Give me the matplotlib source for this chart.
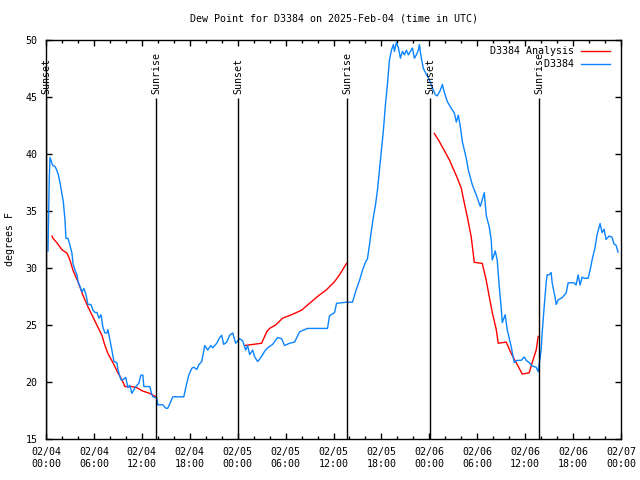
import numpy as np
import pandas as pd
import matplotlib
matplotlib.use('Agg')
import matplotlib.pyplot as plt
import matplotlib.dates as mdates

plt.rcParams['font.family'] = 'DejaVu Sans Mono'
plt.rcParams['font.size'] = 7.2

start = pd.Timestamp('2025-02-04 00:00')

# observed dew point (hours since 02/04 00:00 UTC, deg F)
obs_hours = [0.25, 0.3, 0.4, 0.5, 0.84, 1.13, 1.34, 1.54, 1.75, 1.97, 2.17, 2.38, 2.5, 2.75,
             3.0, 3.25, 3.38, 3.63, 3.88, 4.0, 4.25, 4.5, 4.75, 5.0, 5.25, 5.63, 5.88, 6.13,
             6.38, 6.63, 6.88, 7.13, 7.38, 7.63, 7.75, 8.0, 8.25, 8.5, 8.88, 9.0, 9.38, 9.63,
             10.0, 10.25, 10.5, 10.75, 11.13, 11.63, 11.88, 12.13, 12.25, 13.0, 13.25, 13.38,
             13.88, 14.0, 14.63, 15.0, 15.25, 15.63, 15.88, 17.25, 17.63, 17.88, 18.25, 18.5,
             18.88, 19.13, 19.5, 19.88, 20.25, 20.63, 20.88, 21.38, 21.75, 22.0, 22.25, 22.63,
             23.0, 23.38, 23.75, 24.25, 24.63, 25.0, 25.25, 25.5, 25.88, 26.13, 26.5, 26.75,
             27.13, 27.38, 27.75, 28.38, 29.0, 29.5, 29.88, 30.5, 31.13, 31.75, 32.38, 32.75,
             35.25, 35.5, 36.13, 36.38, 37.63, 38.38, 38.75, 39.25, 39.63, 40.0, 40.25, 40.5,
             40.75, 41.0, 41.25, 41.5, 41.75, 42.0, 42.25, 42.5, 42.75, 43.0, 43.25, 43.5,
             43.63, 43.88, 44.13, 44.38, 44.63, 44.88, 45.13, 45.38, 45.63, 45.88, 46.13,
             46.38, 46.63, 46.75, 47.0, 47.25, 47.63, 48.0, 48.38, 48.75, 49.0, 49.38, 49.63,
             49.88, 50.25, 50.75, 51.13, 51.38, 51.63, 51.88, 52.13, 52.63, 52.88, 53.38,
             53.88, 54.38, 54.88, 55.13, 55.5, 55.75, 55.88, 56.25, 56.5, 56.75, 57.0, 57.13,
             57.5, 57.75, 58.25, 58.63, 59.0, 59.5, 59.88, 60.13, 60.5, 60.88, 61.38, 61.63,
             61.75, 62.0, 62.13, 62.38, 62.63, 62.75, 63.0, 63.25, 63.38, 63.75, 63.88, 64.13,
             64.63, 65.13, 65.38, 66.13, 66.38, 66.63, 66.88, 67.13, 67.38, 67.88, 68.13,
             68.38, 68.75, 69.0, 69.38, 69.63, 69.88, 70.13, 70.5, 70.88, 71.13, 71.38, 71.63]
obs_dewp = [31.5, 33.7, 37.6, 39.7, 39.0, 38.9, 38.6, 38.2, 37.5, 36.6, 35.8, 34.2, 32.6, 32.6,
            32.0, 31.3, 30.4, 29.8, 29.4, 28.8, 28.4, 27.9, 28.2, 27.7, 26.8, 26.8, 26.3, 26.1,
            26.1, 25.6, 25.9, 24.8, 24.3, 24.3, 24.6, 23.7, 22.8, 21.8, 21.7, 21.1, 20.2, 20.2,
            20.4, 19.5, 19.7, 19.0, 19.5, 19.9, 20.6, 20.6, 19.6, 19.6, 18.9, 18.7,
            18.6, 18.0, 18.0, 17.7, 17.7, 18.3, 18.7, 18.7, 19.9, 20.6, 21.2, 21.3,
            21.1, 21.5, 21.8, 23.2, 22.8, 23.2, 23.0, 23.4, 23.9, 24.1, 23.3, 23.5,
            24.1, 24.3, 23.4, 23.8, 23.6, 22.8, 23.2, 22.4, 22.8, 22.2, 21.8, 22.0,
            22.4, 22.7, 23.0, 23.3, 23.9, 23.8, 23.2, 23.4, 23.5, 24.4, 24.6, 24.7,
            24.7, 25.8, 26.1, 26.9, 27.0, 27.0, 27.9, 28.9, 29.8, 30.5, 30.8, 32.0,
            33.3, 34.5, 35.5, 36.8, 38.6, 40.4, 42.1, 44.3, 46.1, 48.2, 49.1, 49.6,
            49.0, 49.8, 49.3, 48.4, 49.0, 48.7, 49.1, 48.7, 49.0, 49.3, 48.4,
            48.7, 49.1, 49.6, 48.4, 47.5, 47.0, 46.5, 45.8, 45.2, 45.1, 45.6, 46.1,
            45.4, 44.6, 44.0, 43.6, 42.8, 43.4, 42.4, 41.1, 39.6, 38.6, 37.3,
            36.4, 35.4, 36.6, 34.6, 33.6, 32.5, 30.7, 31.5, 30.7, 28.4, 26.5, 25.2,
            25.9, 24.6, 23.1, 21.7, 21.9, 21.9, 22.2, 21.9, 21.7, 21.4, 21.3, 20.9,
            21.5, 22.8, 24.3, 26.6, 28.7, 29.4, 29.4, 29.6, 28.7, 27.4, 26.8, 27.2,
            27.4, 27.8, 28.7, 28.7, 28.5, 29.4, 28.5, 29.2, 29.1, 29.1, 29.8,
            30.7, 31.8, 32.9, 33.9, 33.1, 33.4, 32.5, 32.8, 32.7, 32.1, 32.0, 31.4]

# analysis, three night-time segments (NaN = gap)
ana_hours = [0.75, 0.88, 1.38, 2.0, 2.63, 3.0, 3.38, 4.0, 4.63, 5.25, 5.88, 6.5, 7.0, 7.38,
             7.75, 8.38, 9.0, 9.5, 9.88, 10.75, 11.38, 12.13, 13.0, 13.75, 19.0,
             24.88, 27.0, 27.38, 27.63, 28.0, 28.75, 29.63, 30.75, 32.0, 33.0, 34.0, 35.13,
             36.13, 36.75, 37.63, 43.0,
             48.63, 49.25, 50.5, 51.5, 52.0, 52.38, 52.75, 53.25, 53.63, 54.63, 55.13, 55.5,
             55.88, 56.38, 56.63, 57.63, 58.25, 58.88, 59.63, 60.5, 60.88, 61.38, 61.63]
ana_dewp = [32.8, 32.6, 32.2, 31.6, 31.3, 30.7, 29.8, 28.8, 27.6, 26.6, 25.7, 24.8, 24.1, 23.2,
            22.5, 21.7, 20.8, 20.2, 19.6, 19.6, 19.5, 19.2, 19.0, 18.7, np.nan,
            23.2, 23.4, 24.0, 24.4, 24.7, 25.0, 25.6, 25.9, 26.3, 26.9, 27.5, 28.1,
            28.8, 29.4, 30.4, np.nan,
            41.8, 41.1, 39.5, 37.9, 37.0, 35.7, 34.5, 32.7, 30.5, 30.4, 28.9, 27.5,
            26.1, 24.6, 23.4, 23.5, 22.5, 21.7, 20.7, 20.8, 21.7, 22.8, 24.0]

# sunrise / sunset times (hours)
sun_hours = [0.06, 13.77, 24.04, 37.69, 48.08, 61.73]
sun_labels = ['Sunset', 'Sunrise', 'Sunset', 'Sunrise', 'Sunset', 'Sunrise']

obs_t = start + pd.to_timedelta(obs_hours, unit='h')
ana_t = start + pd.to_timedelta(ana_hours, unit='h')
sun_t = start + pd.to_timedelta(sun_hours, unit='h')

fig = plt.figure(figsize=(6.4, 4.8), dpi=100)
ax = fig.add_axes([46 / 640, 41 / 480, 575 / 640, 399 / 480])

ax.plot(ana_t, ana_dewp, color='#ff0000', lw=1, label='D3384 Analysis')
ax.plot(obs_t, obs_dewp, color='#0a84ff', lw=1, label='D3384'.rjust(14))

for t, lab in zip(sun_t, sun_labels):
    ax.vlines(t, 15, 44.9, color='black', lw=1, zorder=3)
    ax.text(t, 45.3, lab, rotation=90, ha='center', va='bottom')

ax.set_xlim(start, start + pd.Timedelta(hours=72))
ax.set_ylim(15, 50)
ax.set_yticks(range(15, 51, 5))
ax.xaxis.set_major_locator(mdates.HourLocator(byhour=range(0, 24, 6)))
ax.xaxis.set_minor_locator(mdates.HourLocator(interval=2))
ax.xaxis.set_major_formatter(mdates.DateFormatter('%m/%d\n%H:%M'))
ax.tick_params(which='both', direction='in', top=True, right=True, width=1)
ax.tick_params(which='major', length=4, pad=6)
ax.tick_params(which='minor', length=2)
for s in ax.spines.values():
    s.set_linewidth(1)

ax.set_title('Dew Point for D3384 on 2025-Feb-04 (time in UTC)', fontsize=7.2, pad=13)
ax.set_ylabel('degrees F', labelpad=8)

ax.legend(loc='upper right', bbox_to_anchor=(0.9948, 1.005), frameon=False,
          markerfirst=False, handlelength=2.9, handletextpad=0.7, labelspacing=0.3,
          borderaxespad=0.4, borderpad=0.4)

fig.savefig('out.png', dpi=100)
